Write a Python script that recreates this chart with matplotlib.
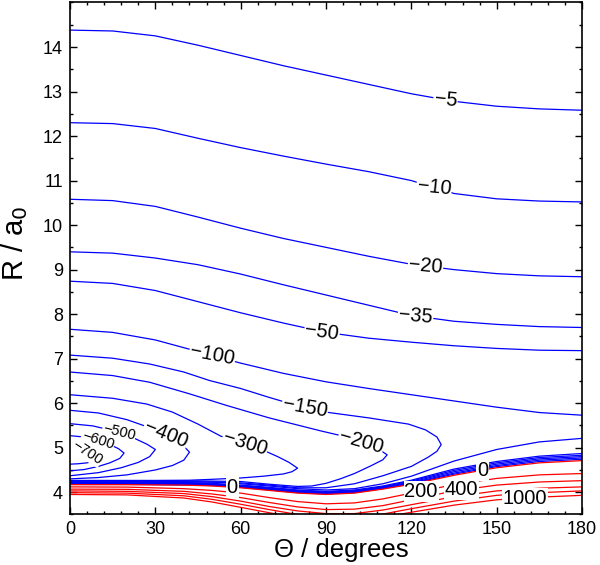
import numpy as np
import matplotlib
matplotlib.use("Agg")
import matplotlib.pyplot as plt
from matplotlib.ticker import MultipleLocator

plt.rcParams['font.family'] = ['Liberation Sans', 'DejaVu Sans']

# theta grid (degrees) for the long range contours
theta = [0, 15, 30, 45, 60, 75, 90, 105, 120, 135, 150, 165, 180]

# outer (long range) contours, R / a0
r_m5 = [14.38, 14.36, 14.25, 14.04, 13.81, 13.58, 13.37, 13.16, 12.95, 12.78, 12.67, 12.61, 12.58]
r_m10 = [12.30, 12.28, 12.17, 11.95, 11.74, 11.55, 11.37, 11.20, 11.00, 10.71, 10.59, 10.54, 10.52]
r_m20 = [10.58, 10.55, 10.42, 10.18, 9.93, 9.70, 9.50, 9.30, 9.12, 9.00, 8.91, 8.86, 8.84]
r_m35 = [9.40, 9.37, 9.26, 9.11, 8.90, 8.66, 8.43, 8.20, 7.97, 7.84, 7.77, 7.72, 7.70]
r_m50 = [8.74, 8.69, 8.53, 8.28, 8.03, 7.80, 7.59, 7.46, 7.37, 7.29, 7.23, 7.19, 7.18]
r_m100 = [7.66, 7.59, 7.42, 7.16, 6.90, 6.67, 6.48, 6.33, 6.19, 6.05, 5.91, 5.79, 5.73]

# theta grid for the repulsive wall contours
theta_wall = [0, 20, 40, 50, 60, 70, 80, 90, 100, 110, 120, 135, 150, 165, 180]

r_m100_lo = [4.22, 4.225, 4.22, 4.23, 4.19, 4.14, 4.08, 4.05, 4.08, 4.19, 4.36, 4.70, 4.96, 5.13, 5.21]
r_m50_lo = [4.21, 4.21, 4.20, 4.20, 4.16, 4.11, 4.05, 4.02, 4.05, 4.14, 4.27, 4.52, 4.69, 4.81, 4.87]
r_m35_lo = [4.20, 4.20, 4.19, 4.185, 4.145, 4.095, 4.035, 4.005, 4.035, 4.125, 4.25, 4.49, 4.66, 4.78, 4.83]
r_m20_lo = [4.19, 4.19, 4.18, 4.17, 4.13, 4.08, 4.02, 3.99, 4.02, 4.11, 4.23, 4.46, 4.63, 4.75, 4.80]
r_m10_lo = [4.18, 4.18, 4.17, 4.16, 4.12, 4.065, 4.005, 3.975, 4.005, 4.095, 4.21, 4.43, 4.60, 4.72, 4.77]
r_m5_lo = [4.175, 4.175, 4.165, 4.15, 4.11, 4.052, 3.992, 3.962, 3.992, 4.082, 4.195, 4.405, 4.575, 4.69, 4.74]
r_0 = [4.17, 4.17, 4.16, 4.14, 4.10, 4.04, 3.98, 3.95, 3.98, 4.07, 4.18, 4.38, 4.55, 4.66, 4.71]
r_200 = [4.12, 4.115, 4.08, 4.04, 3.98, 3.88, 3.79, 3.74, 3.76, 3.85, 3.98, 4.17, 4.31, 4.39, 4.42]
r_400 = [4.07, 4.065, 4.02, 3.96, 3.88, 3.77, 3.67, 3.61, 3.62, 3.70, 3.83, 4.03, 4.16, 4.23, 4.26]
r_600 = [4.03, 4.02, 3.97, 3.90, 3.80, 3.68, 3.58, 3.52, 3.52, 3.60, 3.72, 3.90, 4.03, 4.09, 4.12]
r_800 = [3.99, 3.98, 3.92, 3.84, 3.73, 3.61, 3.50, 3.44, 3.44, 3.51, 3.63, 3.80, 3.93, 3.99, 4.03]
r_1000 = [3.95, 3.94, 3.87, 3.78, 3.66, 3.54, 3.43, 3.37, 3.37, 3.44, 3.55, 3.71, 3.83, 3.89, 3.93]

# closed contours around the well: outer branch up to the turning point, then inner branch back
th_m150_up = [0, 15, 28, 40, 49, 60, 70, 78, 91, 105, 119, 125, 129, 130.5]
r_m150_up = [7.08, 7.01, 6.88, 6.70, 6.51, 6.33, 6.13, 5.98, 5.79, 5.67, 5.53, 5.40, 5.24, 5.07]
th_m150_lo = [130.5, 129, 126, 120, 110, 100, 90, 80, 70, 60, 45, 30, 15, 0]
r_m150_lo = [5.07, 4.92, 4.79, 4.58, 4.37, 4.19, 4.10, 4.10, 4.16, 4.21, 4.235, 4.24, 4.235, 4.23]

th_m200_up = [0, 15, 28, 42, 55, 70, 88, 96, 103, 108, 111.5]
r_m200_up = [6.70, 6.62, 6.47, 6.21, 5.95, 5.67, 5.38, 5.26, 5.12, 4.99, 4.84]
th_m200_lo = [111.5, 110, 106, 100, 95, 90, 85, 80, 70, 60, 45, 30, 15, 0]
r_m200_lo = [4.84, 4.73, 4.60, 4.42, 4.30, 4.20, 4.14, 4.13, 4.18, 4.24, 4.255, 4.255, 4.25, 4.245]

th_m300_up = [0, 15, 27, 36, 45, 53, 61, 67, 73, 77, 80]
r_m300_up = [6.19, 6.11, 5.98, 5.80, 5.53, 5.26, 5.10, 4.97, 4.80, 4.67, 4.54]
th_m300_lo = [80, 78, 75, 68, 60, 50, 42, 30, 15, 0]
r_m300_lo = [4.54, 4.46, 4.41, 4.36, 4.32, 4.29, 4.27, 4.265, 4.265, 4.265]

th_m400_up = [0, 10, 20, 28, 34, 39, 42]
r_m400_up = [5.84, 5.78, 5.63, 5.45, 5.28, 5.10, 4.90]
th_m400_lo = [42, 40, 36, 30, 20, 10, 0]
r_m400_lo = [4.90, 4.72, 4.60, 4.50, 4.39, 4.33, 4.30]

th_m500_up = [0, 8, 16, 22, 27, 30]
r_m500_up = [5.54, 5.49, 5.37, 5.23, 5.08, 4.96]
th_m500_lo = [30, 28, 24, 18, 10, 0]
r_m500_lo = [4.96, 4.80, 4.67, 4.55, 4.44, 4.37]

th_m600_up = [0, 5, 10, 14, 17, 19]
r_m600_up = [5.27, 5.24, 5.17, 5.07, 4.98, 4.88]
th_m600_lo = [19, 17.5, 14, 10, 5, 0]
r_m600_lo = [4.88, 4.76, 4.66, 4.58, 4.51, 4.48]

th_m700_up = [0, 3, 6, 8.5, 10]
r_m700_up = [4.96, 4.94, 4.89, 4.83, 4.77]
th_m700_lo = [10, 8.5, 6, 3, 0]
r_m700_lo = [4.77, 4.70, 4.66, 4.64, 4.63]

BLUE = '#0000ff'
RED = '#ff0000'
LW = 0.9

fig = plt.figure(figsize=(6, 5.65), dpi=100)
ax = fig.add_axes([0.1167, 0.0894, 0.8533, 0.9062])
ax.set_xlim(0, 180)
ax.set_ylim(3.5, 15)

for r in [r_m5, r_m10, r_m20, r_m35, r_m50, r_m100]:
    ax.plot(theta, r, color=BLUE, lw=LW, zorder=2)

for r in [r_m100_lo, r_m50_lo, r_m35_lo, r_m20_lo, r_m10_lo, r_m5_lo]:
    ax.plot(theta_wall, r, color=BLUE, lw=LW, zorder=2)
for r in [r_1000, r_800, r_600, r_400, r_200, r_0]:
    ax.plot(theta_wall, r, color=RED, lw=LW, zorder=2)

closed = [(th_m150_up, r_m150_up, th_m150_lo, r_m150_lo),
          (th_m200_up, r_m200_up, th_m200_lo, r_m200_lo),
          (th_m300_up, r_m300_up, th_m300_lo, r_m300_lo),
          (th_m400_up, r_m400_up, th_m400_lo, r_m400_lo),
          (th_m500_up, r_m500_up, th_m500_lo, r_m500_lo),
          (th_m600_up, r_m600_up, th_m600_lo, r_m600_lo),
          (th_m700_up, r_m700_up, th_m700_lo, r_m700_lo)]
for tu, ru, tl, rl in closed:
    ax.plot(tu + tl[1:], ru + rl[1:], color=BLUE, lw=LW, zorder=2)


def clabel(th, r, at, text, rot, size=14.5):
    # label sits on the line, white box breaks the line like an inline contour label
    y = np.interp(at, th, r)
    ax.text(at, y, text, rotation=rot, rotation_mode='anchor', ha='center', va='center',
            fontsize=size, zorder=2.2,
            bbox=dict(boxstyle='square,pad=0.04', fc='white', ec='none'))


clabel(theta, r_m5, 132, '\u22125', -6)
clabel(theta, r_m10, 128, '\u221210', -6)
clabel(theta, r_m20, 125, '\u221220', -5)
clabel(theta, r_m35, 121.5, '\u221235', -5)
clabel(theta, r_m50, 88.6, '\u221250', -8)
clabel(theta, r_m100, 50, '\u2212100', -11)
clabel(th_m150_up, r_m150_up, 82.6, '\u2212150', -10)
clabel(th_m200_up, r_m200_up, 102.3, '\u2212200', -16)
clabel(th_m300_up, r_m300_up, 61.5, '\u2212300', -17)
clabel(th_m400_up, r_m400_up, 33.6, '\u2212400', -22)
clabel(th_m500_up, r_m500_up, 17.2, '\u2212500', -14, size=10.5)
clabel(th_m600_up, r_m600_up, 9.8, '\u2212600', -18, size=10.5)
clabel(th_m700_up, r_m700_up, 6, '\u2212700', -33, size=10.5)
clabel(theta_wall, r_0, 57, '0', 0)
clabel(theta_wall, r_0, 145, '0', 0)
clabel(theta_wall, r_200, 123.4, '200', 0)
clabel(theta_wall, r_400, 137.5, '400', 0)
clabel(theta_wall, r_1000, 160, '1000', 0)

ax.xaxis.set_major_locator(MultipleLocator(30))
ax.xaxis.set_minor_locator(MultipleLocator(6))
ax.yaxis.set_minor_locator(MultipleLocator(0.5))
ax.set_yticks(range(4, 15))
ax.tick_params(which='both', direction='in', top=True, right=True, labelsize=13, pad=5, width=1)
ax.tick_params(which='major', length=5)
ax.tick_params(which='minor', length=2.5)
for s in ax.spines.values():
    s.set_linewidth(1.2)

ax.set_xlabel('\u0398 / degrees', fontsize=18.5)
ax.xaxis.set_label_coords(0.53, -0.046)
ax.set_ylabel('R / a$_0$', fontsize=21)
ax.yaxis.set_label_coords(-0.078, 0.53)

fig.savefig('out.png', dpi=100)
